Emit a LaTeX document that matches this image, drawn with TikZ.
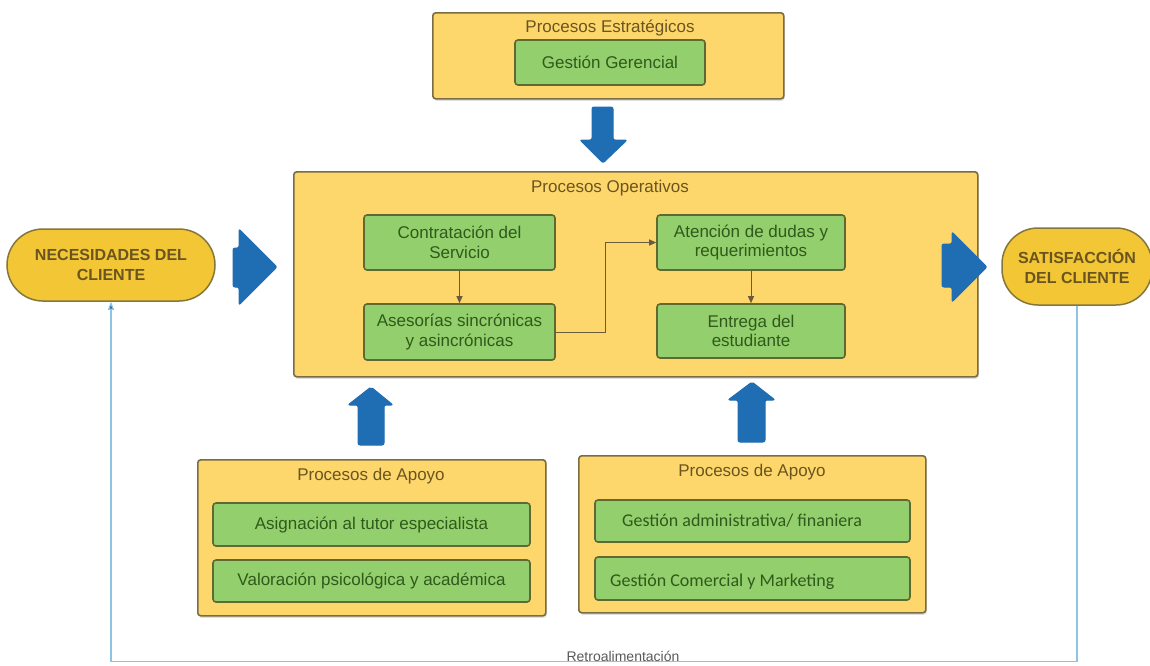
\documentclass[tikz,border=0pt]{standalone}
\usepackage{fontspec}
\setmainfont{Liberation Sans}
\newfontfamily\calibrifont{Carlito}
\usetikzlibrary{arrows.meta,shadows}

\definecolor{boxfill}{HTML}{FDD76C}
\definecolor{boxline}{HTML}{7A6C45}
\definecolor{boxtext}{HTML}{6A5520}
\definecolor{greenfill}{HTML}{93CF6C}
\definecolor{greenline}{HTML}{5F6A33}
\definecolor{greentext}{HTML}{2F5A1C}
\definecolor{pillfill}{HTML}{F2C634}
\definecolor{pillline}{HTML}{85763C}
\definecolor{bigarrow}{HTML}{1F6DB2}
\definecolor{feedline}{HTML}{8EC4E2}
\definecolor{flowline}{HTML}{6B5B3E}

\tikzset{
  yellowbox/.style={draw=boxline, fill=boxfill, line width=1.6pt, rounded corners=3pt,
    anchor=north west, inner sep=0pt,
    drop shadow={shadow xshift=1pt, shadow yshift=-2pt, opacity=0.25}},
  boxtitle/.style={text=boxtext, font=\fontsize{17}{19}\selectfont},
  greenbox/.style={draw=greenline, fill=greenfill, line width=1.6pt, rounded corners=3pt,
    text=greentext, align=center, inner sep=0pt, font=\fontsize{17}{19.5}\selectfont},
  greenlabel/.style={text=greentext, anchor=west, inner sep=0pt, font=\calibrifont\fontsize{18}{19}\selectfont},
  pill/.style={draw=pillline, fill=pillfill, line width=1.5pt, rounded corners=36pt,
    text=boxtext, align=center, inner sep=0pt, font=\bfseries\fontsize{16}{19.5}\selectfont},
  blockarrow/.style={fill=bigarrow, draw=bigarrow, line width=1pt, rounded corners=2pt},
  flow/.style={draw=flowline, line width=1pt, -{Triangle[length=7pt,width=6pt]}},
  feedback/.style={draw=feedline, line width=1.2pt, -{Triangle[length=8pt,width=6pt,fill=bigarrow]}}
}

\begin{document}
\begin{tikzpicture}[x=1pt,y=-1pt]
\useasboundingbox (0,0) rectangle (1150,665);

% strategic processes
\node[yellowbox, minimum width=351pt, minimum height=86pt] (estrat) at (432,12){};
\node[boxtitle] (estratT) at (610,28){Procesos Estratégicos};
\node[greenbox, minimum width=190pt, minimum height=45pt] (gerenc) at (610,62.5){Gestión Gerencial};

% operative processes
\node[yellowbox, minimum width=684pt, minimum height=205pt] (operat) at (293,171){};
\node[boxtitle] (operatT) at (610,188){Procesos Operativos};
\node[greenbox, minimum width=191pt, minimum height=55pt] (contra) at (459.5,242.5){Contratación del\\Servicio};
\node[greenbox, minimum width=191pt, minimum height=56pt] (ases) at (459.5,332){Asesorías sincrónicas\\y asincrónicas};
\node[greenbox, minimum width=188pt, minimum height=55pt] (aten) at (751,242.5){Atención de dudas y\\requerimientos};
\node[greenbox, minimum width=188pt, minimum height=54pt] (entre) at (751,331){Entrega del\\estudiante};
\draw[flow] (contra) -- (ases);
\draw[flow] (ases.east) -- ++(50,0) |- (aten.west);
\draw[flow] (aten) -- (entre);

% support processes
\node[yellowbox, minimum width=348pt, minimum height=156pt] (apoyoA) at (197,459){};
\node[boxtitle] (apoyoAT) at (371,476){Procesos de Apoyo};
\node[greenbox, minimum width=317pt, minimum height=43pt] (asign) at (371.5,524.5){Asignación al tutor especialista};
\node[greenbox, minimum width=317pt, minimum height=42pt] (valor) at (371.5,581){Valoración psicológica y académica};

\node[yellowbox, minimum width=347pt, minimum height=157pt] (apoyoB) at (578,455){};
\node[boxtitle] (apoyoBT) at (752,472){Procesos de Apoyo};
\node[greenbox, minimum width=315pt, minimum height=42pt] (admin) at (752.5,521){};
\node[greenlabel] (adminT) at (622,521){Gestión administrativa/ finaniera};
\node[greenbox, minimum width=315pt, minimum height=43pt] (comer) at (752.5,578.5){};
\node[greenlabel] (comerT) at (610,582){Gestión Comercial y Marketing};

% client
\node[pill, minimum width=208pt, minimum height=72pt] (neces) at (111,265){NECESIDADES DEL\\CLIENTE};
\node[pill, minimum width=150pt, minimum height=77pt] (satis) at (1077,266.5){SATISFACCIÓN\\DEL CLIENTE};

% block arrows
\draw[blockarrow] (592,107) -- (613,107) -- (613,140) -- (627,140) -- (603,163) -- (580,140) -- (592,140) -- cycle;
\draw[blockarrow] (358,445) -- (384,445) -- (384,405) -- (393,405) -- (371,387) -- (348,405) -- (358,405) -- cycle;
\draw[blockarrow] (738,442) -- (765,442) -- (765,400) -- (775,400) -- (752,382) -- (728,400) -- (738,400) -- cycle;
\draw[blockarrow] (233,248) -- (239,248) -- (239,229) -- (277,267) -- (239,305) -- (239,287) -- (233,287) -- cycle;
\draw[blockarrow] (942,244) -- (952,244) -- (952,232) -- (987,267) -- (952,302) -- (952,287) -- (942,287) -- cycle;

% feedback
\draw[feedback] (satis.south) -- ++(0,356) -| (neces.south);
\node[text=black!65, font=\fontsize{14}{16}\selectfont] (retro) at (623,656){Retroalimentación};
\end{tikzpicture}
\end{document}
